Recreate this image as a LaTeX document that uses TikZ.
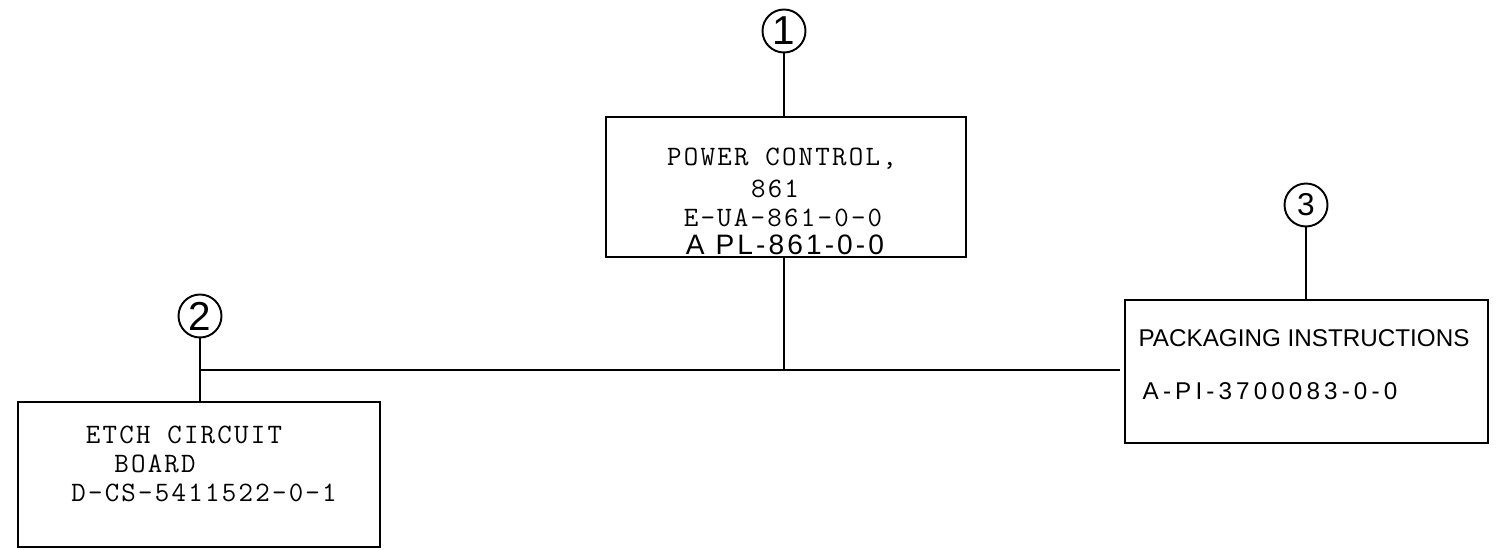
\documentclass[tikz,border=0pt]{standalone}
\usepackage{fontspec}
\setmonofont[LetterSpace=8]{Latin Modern Mono}
\setsansfont{Liberation Sans}
\usetikzlibrary{positioning}

\tikzset{
  partbox/.style={draw, line width=1.6pt, inner sep=0pt},
  balloon/.style={draw, circle, line width=1.1pt, minimum size=0.86cm, inner sep=0pt,
    font=\sffamily\fontsize{23}{23}\selectfont},
  typed/.style={inner sep=0pt, text depth=0pt, font=\ttfamily\fontsize{16}{16}\selectfont},
  lettered/.style={inner sep=0pt, text depth=0pt, font=\sffamily\fontsize{13.8}{13.8}\selectfont},
  link/.style={line width=1.1pt}
}

\begin{document}
\begin{tikzpicture}[x=0.02cm, y=-0.02cm]
  \useasboundingbox (0,0) rectangle (1501,550);

  % 1. part boxes
  \node[partbox, minimum width=7.2cm, minimum height=2.8cm] (pwr) at (786,187) {};
  \node[partbox, minimum width=7.24cm, minimum height=2.9cm] (etch) at (199,474.5) {};
  \node[partbox, minimum width=7.26cm, minimum height=2.86cm] (pack) at (1306.5,371.5) {};

  % 2. item balloons
  \node[balloon] (b1) at (784,31) {1};
  \node[balloon] (b2) at (200,316) {2};
  \node[balloon, font=\sffamily\fontsize{18}{18}\selectfont] (b3) at (1306,205) {3};

  % 3. box texts (typed and lettered lines)
  \node[typed] (pwr-1) at (782,157) {POWER CONTROL,};
  \node[typed] (pwr-2) at (775,189) {861};
  \node[typed] (pwr-3) at (783,218) {E-UA-861-0-0};
  \node[lettered, font=\sffamily\fontsize{16}{16}\selectfont\addfontfeature{LetterSpace=11}] (pwr-4) at (785,245) {A PL-861-0-0};

  \node[typed] (etch-1) at (184,435) {ETCH CIRCUIT};
  \node[typed] (etch-2) at (155,464) {BOARD};
  \node[typed] (etch-3) at (204,493) {D-CS-5411522-0-1};

  \node[lettered] (pack-1) at (1304,338) {PACKAGING INSTRUCTIONS};
  \node[lettered, font=\sffamily\fontsize{13.8}{13.8}\selectfont\addfontfeature{LetterSpace=17}] (pack-2) at (1270,391) {A-PI-3700083-0-0};

  % 4. connectors and bus line
  \coordinate (busL) at (200,370);
  \coordinate (busR) at (1120,370);
  \draw[link] (b1.south) -- (b1.south |- pwr.north);
  \draw[link] (b2.south) -- (b2.south |- etch.north);
  \draw[link] (b3.south) -- (b3.south |- pack.north);
  \draw[link] (busL) -- (busR);
  \draw[link] (b1.south |- pwr.south) -- (b1.south |- busL);
\end{tikzpicture}
\end{document}
